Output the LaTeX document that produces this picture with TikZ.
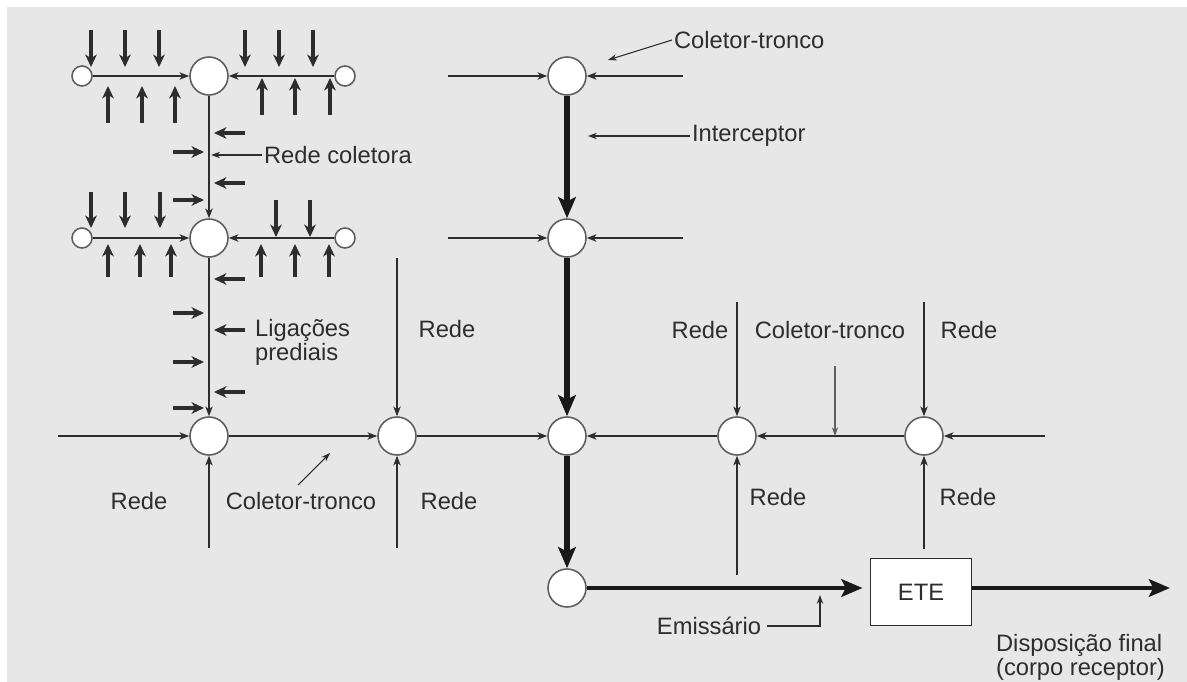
\documentclass[tikz,border=0pt]{standalone}
\usepackage{fontspec}
\setmainfont{Liberation Sans}
\usepackage{tikz}
\usetikzlibrary{
    positioning,
    arrows.meta
}
\definecolor{paperGray}{RGB}{231,231,231}
\definecolor{inkGray}{RGB}{45,45,45}
\definecolor{rimGray}{RGB}{95,95,95}

\begin{document}
\begin{tikzpicture}[x=0.02cm, y=-0.02cm,
        txt/.style={text=inkGray, font=\fontsize{13.5}{12.5}\selectfont, inner sep=1pt},
        mh/.style={circle, draw=rimGray, fill=white, line width=0.9pt, minimum size=0.76cm, inner sep=0pt},
        endcap/.style={circle, draw=rimGray, fill=white, line width=0.9pt, minimum size=0.4cm, inner sep=0pt},
        ete/.style={txt, draw=inkGray, fill=white, line width=1.1pt, minimum width=2.02cm, minimum height=1.34cm},
        pipe/.style={draw=inkGray, line width=0.75pt, -{Stealth[length=5.5pt, width=4.2pt, inset=1.5pt]}},
        feed/.style={draw=inkGray, line width=1.8pt, -{Stealth[length=7pt, width=6.5pt, inset=2pt]}},
        leader/.style={draw=inkGray, line width=0.6pt, -{Stealth[length=5pt, width=3.6pt, inset=1.5pt]}},
        trunk/.style={draw=black!90, line width=3.4pt, -{Stealth[length=12pt, width=10pt, inset=2.5pt]}},
        outfall/.style={draw=black!90, line width=2.6pt, -{Stealth[length=12pt, width=10pt, inset=2.5pt]}}
    ]
        \useasboundingbox (0,0) rectangle (1187,682);
        \fill[paperGray] (7,7) rectangle (1187,682);

        % rede coletora (lado esquerdo)
        \node[endcap] (a1) at (82,76) {};
        \node[mh] (n1) at (209,76) {};
        \node[endcap] (b1) at (345,76) {};
        \node[endcap] (a2) at (82,238) {};
        \node[mh] (n2) at (209,238) {};
        \node[endcap] (b2) at (345,238) {};

        % coletor-tronco inferior
        \node[mh] (n3) at (209,436) {};
        \node[mh] (n4) at (397,436) {};
        \node[mh] (n5) at (567,436) {};
        \node[mh] (n6) at (737,436) {};
        \node[mh] (n7) at (924,436) {};

        % interceptor
        \node[mh] (t1) at (567,76) {};
        \node[mh] (t2) at (567,238) {};
        \node[mh] (t4) at (567,588) {};
        \node[ete] (ete) at (921,592) {ETE};

        % pontas livres
        \coordinate (t1w) at (448,76);
        \coordinate (t1e) at (683,76);
        \coordinate (t2w) at (448,238);
        \coordinate (t2e) at (683,238);
        \coordinate (n3w) at (58,436);
        \coordinate (n3s) at (209,548);
        \coordinate (n4n) at (397,258);
        \coordinate (n4s) at (397,548);
        \coordinate (n6n) at (737,302);
        \coordinate (n6s) at (737,575);
        \coordinate (n7n) at (924,302);
        \coordinate (n7s) at (924,549);
        \coordinate (n7e) at (1045,436);
        \coordinate (sea) at (1170,588);

        % ligacoes prediais
        \foreach \x in {91,125,159,245,279,313} \draw[feed] (\x,30) -- (\x,67);
        \foreach \x in {108,142,175} \draw[feed] (\x,123) -- (\x,86);
        \foreach \x in {262,295,330} \draw[feed] (\x,115) -- (\x,78);
        \foreach \x in {91,125,160} \draw[feed] (\x,192) -- (\x,228);
        \foreach \x in {276,310} \draw[feed] (\x,200) -- (\x,237);
        \foreach \x in {108,140,171,261,295,329} \draw[feed] (\x,277) -- (\x,244);
        \foreach \y in {133,183,279,330,392} \draw[feed] (245,\y) -- (214,\y);
        \foreach \y in {152,200,313,362,408} \draw[feed] (173,\y) -- (204,\y);

        \draw[pipe] (a1) -- (n1);
        \draw[pipe] (b1) -- (n1);
        \draw[pipe] (a2) -- (n2);
        \draw[pipe] (b2) -- (n2);
        \draw[pipe] (n1) -- (n2);
        \draw[pipe] (n2) -- (n3);

        \draw[pipe] (n3w) -- (n3);
        \draw[pipe] (n3s) -- (n3);
        \draw[pipe] (n3) -- (n4);
        \draw[pipe] (n4n) -- (n4);
        \draw[pipe] (n4s) -- (n4);
        \draw[pipe] (n4) -- (n5);
        \draw[pipe] (n6) -- (n5);
        \draw[pipe] (n7) -- (n6);
        \draw[pipe] (n6n) -- (n6);
        \draw[pipe] (n6s) -- (n6);
        \draw[pipe] (n7n) -- (n7);
        \draw[pipe] (n7s) -- (n7);
        \draw[pipe] (n7e) -- (n7);

        \draw[pipe] (t1w) -- (t1);
        \draw[pipe] (t1e) -- (t1);
        \draw[pipe] (t2w) -- (t2);
        \draw[pipe] (t2e) -- (t2);
        \draw[trunk] (t1) -- (t2);
        \draw[trunk] (t2) -- (n5);
        \draw[trunk] (n5) -- (t4);
        \draw[outfall, shorten >=4pt] (t4) -- (t4 -| ete.west);
        \draw[outfall] (ete.east |- sea) -- (sea);

        % rotulos
        \node[txt, anchor=west] (lTop) at (672,40) {Coletor-tronco};
        \draw[leader] (lTop.west) -- (608,60);
        \node[txt, anchor=west] (lInt) at (690,136) {Interceptor};
        \draw[leader] (lInt.west) -- (588,136);
        \node[txt, anchor=west] (lRC) at (262,155) {Rede coletora};
        \draw[leader, shorten >=1.2pt] (lRC.west) -- (lRC.west -| n1);
        \node[txt, anchor=west, align=left] (lLP) at (253,342) {Ligações\\prediais};

        \node[txt] (lR1) at (139,501) {Rede};
        \node[txt] (lCT1) at (301,501) {Coletor-tronco};
        \draw[leader] (298,485) -- (330,453);
        \node[txt] (lR2) at (447,329) {Rede};
        \node[txt] (lR3) at (449,501) {Rede};
        \node[txt] (lR4) at (700,330) {Rede};
        \node[txt] (lCT2) at (830,330) {Coletor-tronco};
        \coordinate (ct2) at (835,366);
        \draw[leader, draw=rimGray] (ct2) -- (ct2 |- n6);
        \node[txt] (lR5) at (969,330) {Rede};
        \node[txt] (lR6) at (778,497) {Rede};
        \node[txt] (lR7) at (968,497) {Rede};

        \node[txt] (lEm) at (709,626) {Emissário};
        \coordinate (emTip) at (820,595);
        \draw[leader, line width=0.75pt] (lEm.east) ++(4,0) -| (emTip);
        \node[txt, anchor=north west, align=left] (lDF) at (994,632) {Disposição final\\(corpo receptor)};
    \end{tikzpicture}
\end{document}
